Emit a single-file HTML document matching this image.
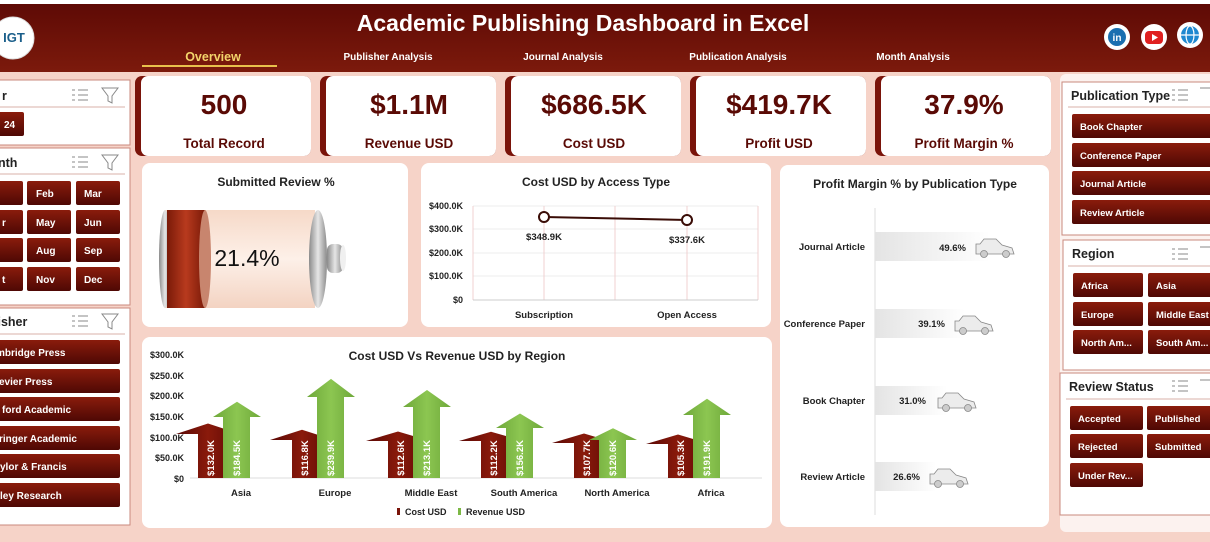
<!DOCTYPE html>
<html><head><meta charset="utf-8"><style>
html,body{margin:0;padding:0;width:1210px;height:542px;overflow:hidden;background:#f6d3c8}
svg{display:block}
text{font-family:"Liberation Sans",sans-serif}
.c{font-family:"Liberation Sans",sans-serif;font-weight:bold}
</style></head><body>
<svg width="1210" height="542" viewBox="0 0 1210 542" xmlns="http://www.w3.org/2000/svg">
<defs>
<linearGradient id="hdr" x1="0" y1="0" x2="0" y2="1"><stop offset="0" stop-color="#5e0a05"/><stop offset="1" stop-color="#7c1a0c"/></linearGradient>
<linearGradient id="btn" x1="0" y1="0" x2="0" y2="1"><stop offset="0" stop-color="#8a1c0c"/><stop offset="1" stop-color="#4e0804"/></linearGradient>
<linearGradient id="red" x1="0" y1="0" x2="1" y2="0"><stop offset="0" stop-color="#5a0805"/><stop offset=".5" stop-color="#8a1a0b"/><stop offset="1" stop-color="#5a0805"/></linearGradient>
<linearGradient id="grn" x1="0" y1="0" x2="1" y2="0"><stop offset="0" stop-color="#6ea83a"/><stop offset=".5" stop-color="#8cc651"/><stop offset="1" stop-color="#6ea83a"/></linearGradient>
<linearGradient id="bred" x1="0" y1="0" x2="1" y2="0"><stop offset="0" stop-color="#7a1a08"/><stop offset=".5" stop-color="#b83a1e"/><stop offset="1" stop-color="#7a1a08"/></linearGradient>
<linearGradient id="bpink" x1="0" y1="0" x2="0" y2="1"><stop offset="0" stop-color="#f6d9c8"/><stop offset=".5" stop-color="#fdf0e8"/><stop offset="1" stop-color="#f3d3c2"/></linearGradient>
<linearGradient id="gray" x1="0" y1="0" x2="1" y2="0"><stop offset="0" stop-color="#8a8a8a"/><stop offset=".5" stop-color="#e6e6e6"/><stop offset="1" stop-color="#8a8a8a"/></linearGradient>
<linearGradient id="pm" x1="0" y1="0" x2="1" y2="0"><stop offset="0" stop-color="#e4e4e4"/><stop offset="1" stop-color="#ffffff"/></linearGradient>
</defs>
<!-- header -->
<rect x="0" y="0" width="1210" height="4" fill="#fff"/>
<rect x="0" y="4" width="1210" height="68" fill="url(#hdr)"/>
<circle cx="13" cy="38" r="21" fill="#fff" stroke="#ddd"/>
<text x="14" y="42" class="c" font-size="13" fill="#1a5e8a" text-anchor="middle">IGT</text>
<text x="583" y="31" class="c" font-size="23" fill="#fff" text-anchor="middle">Academic Publishing Dashboard in Excel</text>
<text x="213" y="61" class="c" font-size="12.5" fill="#f3d36a" text-anchor="middle">Overview</text>
<rect x="142" y="65" width="135" height="2" fill="#e8c04c"/>
<text x="388" y="60" class="c" font-size="10" fill="#fff" text-anchor="middle">Publisher Analysis</text>
<text x="563" y="60" class="c" font-size="10" fill="#fff" text-anchor="middle">Journal Analysis</text>
<text x="738" y="60" class="c" font-size="10" fill="#fff" text-anchor="middle">Publication  Analysis</text>
<text x="913" y="60" class="c" font-size="10" fill="#fff" text-anchor="middle">Month Analysis</text>
<circle cx="1117" cy="37" r="13" fill="#fff"/><circle cx="1117" cy="37" r="9" fill="#1a6fb0"/><text x="1117" y="41" class="c" font-size="10" fill="#fff" text-anchor="middle">in</text>
<circle cx="1154" cy="37" r="13" fill="#fff"/><rect x="1145" y="31" width="18" height="13" rx="4" fill="#e02020"/><path d="M1152 34 L1158 37.5 L1152 41Z" fill="#fff"/>
<circle cx="1190" cy="35" r="13" fill="#fff"/><circle cx="1190" cy="35" r="9" fill="#1e88d0"/><ellipse cx="1190" cy="35" rx="4" ry="9" fill="none" stroke="#fff" stroke-width="1.2"/><line x1="1181" y1="35" x2="1199" y2="35" stroke="#fff" stroke-width="1.2"/>
<!-- left panels -->
<g stroke="#c98a7e" stroke-width="1" fill="#fff">
<rect x="-5" y="80" width="135" height="65"/>
<rect x="-5" y="148" width="135" height="157"/>
<rect x="-5" y="308" width="135" height="217"/>
</g>
<g class="c" font-size="12.5" fill="#222">
<text x="2" y="100">r</text><text x="-2" y="167">nth</text><text x="-6" y="326">lisher</text>
</g>
<g stroke="#d8b2aa"><line x1="0" y1="107" x2="125" y2="107"/><line x1="0" y1="174" x2="125" y2="174"/><line x1="0" y1="334" x2="125" y2="334"/></g>
<g fill="none" stroke="#888" stroke-width="1">
<path d="M72 90h3M72 95h3M72 100h3M78 90h10M78 95h10M78 100h10"/><path d="M102 88h16l-6 8v7l-4-2v-5z"/>
<path d="M72 157h3M72 162h3M72 167h3M78 157h10M78 162h10M78 167h10"/><path d="M102 155h16l-6 8v7l-4-2v-5z"/>
<path d="M72 316h3M72 321h3M72 326h3M78 316h10M78 321h10M78 326h10"/><path d="M102 314h16l-6 8v7l-4-2v-5z"/>
</g>
<rect x="-5" y="112" width="29" height="24" rx="2" fill="url(#btn)"/><text x="4" y="128" class="c" font-size="10" fill="#fff">24</text>
<g fill="url(#btn)">
<rect x="-5" y="181" width="28" height="24" rx="2"/><rect x="27" y="181" width="44" height="24" rx="2"/><rect x="76" y="181" width="44" height="24" rx="2"/>
<rect x="-5" y="210" width="28" height="24" rx="2"/><rect x="27" y="210" width="44" height="24" rx="2"/><rect x="76" y="210" width="44" height="24" rx="2"/>
<rect x="-5" y="238" width="28" height="24" rx="2"/><rect x="27" y="238" width="44" height="24" rx="2"/><rect x="76" y="238" width="44" height="24" rx="2"/>
<rect x="-5" y="267" width="28" height="24" rx="2"/><rect x="27" y="267" width="44" height="24" rx="2"/><rect x="76" y="267" width="44" height="24" rx="2"/>
<rect x="-5" y="340" width="125" height="24" rx="2"/><rect x="-5" y="369" width="125" height="24" rx="2"/><rect x="-5" y="397" width="125" height="24" rx="2"/>
<rect x="-5" y="426" width="125" height="24" rx="2"/><rect x="-5" y="454" width="125" height="24" rx="2"/><rect x="-5" y="483" width="125" height="24" rx="2"/>
</g>
<g class="c" font-size="10" fill="#fff">
<text x="36" y="197">Feb</text><text x="84" y="197">Mar</text>
<text x="2" y="226">r</text><text x="36" y="226">May</text><text x="84" y="226">Jun</text>
<text x="36" y="254">Aug</text><text x="84" y="254">Sep</text>
<text x="2" y="283">t</text><text x="36" y="283">Nov</text><text x="84" y="283">Dec</text>
<text x="-4" y="356">mbridge Press</text><text x="-1" y="385">evier Press</text><text x="2" y="413">ford Academic</text>
<text x="-1" y="442">ringer Academic</text><text x="0" y="470">ylor &amp; Francis</text><text x="0" y="499">ley Research</text>
</g>
<!-- KPI cards -->
<g>
<rect x="135" y="76" width="176" height="80" rx="7" fill="#7a140a"/><rect x="141" y="76" width="170" height="80" rx="7" fill="#fff"/>
<rect x="320" y="76" width="176" height="80" rx="7" fill="#7a140a"/><rect x="326" y="76" width="170" height="80" rx="7" fill="#fff"/>
<rect x="505" y="76" width="176" height="80" rx="7" fill="#7a140a"/><rect x="511" y="76" width="170" height="80" rx="7" fill="#fff"/>
<rect x="690" y="76" width="176" height="80" rx="7" fill="#7a140a"/><rect x="696" y="76" width="170" height="80" rx="7" fill="#fff"/>
<rect x="875" y="76" width="176" height="80" rx="7" fill="#7a140a"/><rect x="881" y="76" width="170" height="80" rx="7" fill="#fff"/>
</g>
<g class="c" fill="#5a0a05" text-anchor="middle">
<text x="224" y="114" font-size="28">500</text><text x="409" y="114" font-size="28">$1.1M</text><text x="594" y="114" font-size="28">$686.5K</text><text x="779" y="114" font-size="28">$419.7K</text><text x="964" y="114" font-size="28">37.9%</text>
<text x="224" y="148" font-size="13.5">Total Record</text><text x="409" y="148" font-size="13.5">Revenue USD</text><text x="594" y="148" font-size="13.5">Cost USD</text><text x="779" y="148" font-size="13.5">Profit USD</text><text x="964" y="148" font-size="13.5">Profit Margin %</text>
</g>
<!-- chart cards -->
<g fill="#fff">
<rect x="142" y="163" width="266" height="164" rx="8"/>
<rect x="421" y="163" width="350" height="164" rx="8"/>
<rect x="780" y="165" width="269" height="362" rx="8"/>
<rect x="142" y="337" width="630" height="191" rx="8"/>
</g>
<!-- submitted review battery -->
<text x="276" y="186" class="c" font-size="12" fill="#222" text-anchor="middle">Submitted Review %</text>
<rect x="165" y="210" width="150" height="98" fill="url(#bpink)"/>
<ellipse cx="165" cy="259" rx="6" ry="49" fill="url(#gray)"/>
<rect x="167" y="210" width="38" height="98" fill="url(#bred)"/>
<ellipse cx="205" cy="259" rx="6" ry="49" fill="#c8856e"/>
<ellipse cx="318" cy="259" rx="9" ry="49" fill="url(#gray)"/>
<rect x="327" y="244" width="16" height="29" rx="6" fill="url(#gray)"/>
<ellipse cx="343" cy="258" rx="3" ry="13" fill="#f0f0f0"/>
<text x="247" y="266" font-size="23" fill="#111" text-anchor="middle">21.4%</text>
<!-- line chart -->
<text x="596" y="186" class="c" font-size="12" fill="#222" text-anchor="middle">Cost USD by Access Type</text>
<g stroke="#eee"><line x1="473" y1="206" x2="758" y2="206"/><line x1="473" y1="229" x2="758" y2="229"/><line x1="473" y1="253" x2="758" y2="253"/><line x1="473" y1="276" x2="758" y2="276"/></g>
<g stroke="#f0d0d0"><line x1="473" y1="206" x2="473" y2="300"/><line x1="615" y1="206" x2="615" y2="300"/><line x1="758" y1="206" x2="758" y2="300"/><line x1="544" y1="206" x2="544" y2="300"/><line x1="687" y1="206" x2="687" y2="300"/></g>
<line x1="473" y1="300" x2="758" y2="300" stroke="#ccc"/>
<g class="c" font-size="9" fill="#222" text-anchor="end"><text x="463" y="209">$400.0K</text><text x="463" y="232">$300.0K</text><text x="463" y="256">$200.0K</text><text x="463" y="279">$100.0K</text><text x="463" y="303">$0</text></g>
<line x1="544" y1="217" x2="687" y2="220" stroke="#3a0c06" stroke-width="2"/>
<circle cx="544" cy="217" r="5" fill="#fff" stroke="#3a0c06" stroke-width="2"/><circle cx="687" cy="220" r="5" fill="#fff" stroke="#3a0c06" stroke-width="2"/>
<g class="c" font-size="9.5" fill="#222" text-anchor="middle"><text x="544" y="240">$348.9K</text><text x="687" y="243">$337.6K</text><text x="544" y="318">Subscription</text><text x="687" y="318">Open Access</text></g>
<!-- profit margin -->
<text x="915" y="188" class="c" font-size="12" fill="#222" text-anchor="middle">Profit Margin % by Publication Type</text>
<line x1="875" y1="208" x2="875" y2="515" stroke="#ddd"/>
<rect x="875" y="232" width="115" height="29" fill="url(#pm)"/>
<rect x="875" y="309" width="90" height="29" fill="url(#pm)"/>
<rect x="875" y="386" width="72" height="29" fill="url(#pm)"/>
<rect x="875" y="462" width="61" height="29" fill="url(#pm)"/>
<g class="c" font-size="9.5" fill="#222" text-anchor="end">
<text x="865" y="250">Journal Article</text><text x="865" y="327">Conference Paper</text><text x="865" y="404">Book Chapter</text><text x="865" y="480">Review Article</text>
<text x="966" y="251">49.6%</text><text x="945" y="327">39.1%</text><text x="926" y="404">31.0%</text><text x="920" y="480">26.6%</text>
</g>
<g fill="#ececec" stroke="#888" stroke-width="0.8">
<path d="M976 254 h38 l-2 -6 l-10 -3 l-6 -6 h-12 l-4 5 h-4z"/><circle cx="984" cy="254" r="3.5" fill="#ccc"/><circle cx="1006" cy="254" r="3.5" fill="#ccc"/>
<path d="M955 331 h38 l-2 -6 l-10 -3 l-6 -6 h-12 l-4 5 h-4z"/><circle cx="963" cy="331" r="3.5" fill="#ccc"/><circle cx="985" cy="331" r="3.5" fill="#ccc"/>
<path d="M938 408 h38 l-2 -6 l-10 -3 l-6 -6 h-12 l-4 5 h-4z"/><circle cx="946" cy="408" r="3.5" fill="#ccc"/><circle cx="968" cy="408" r="3.5" fill="#ccc"/>
<path d="M930 484 h38 l-2 -6 l-10 -3 l-6 -6 h-12 l-4 5 h-4z"/><circle cx="938" cy="484" r="3.5" fill="#ccc"/><circle cx="960" cy="484" r="3.5" fill="#ccc"/>
</g>
<!-- bar chart -->
<text x="457" y="360" class="c" font-size="12" fill="#222" text-anchor="middle">Cost USD Vs Revenue USD by Region</text>
<line x1="190" y1="478" x2="762" y2="478" stroke="#ddd"/>
<g class="c" font-size="9" fill="#222" text-anchor="end"><text x="184" y="358">$300.0K</text><text x="184" y="379">$250.0K</text><text x="184" y="399">$200.0K</text><text x="184" y="420">$150.0K</text><text x="184" y="441">$100.0K</text><text x="184" y="461">$50.0K</text><text x="184" y="482">$0</text></g>
<g id="bars">
<!-- cost arrows: shaft c-43..c-18, head c-65..c-1 -->
<path fill="url(#red)" d="M198 478V434H176L208 423.5L240 434H223V478Z"/>
<path fill="url(#red)" d="M292 478V440H270L302 429.8L334 440H317V478Z"/>
<path fill="url(#red)" d="M388 478V441H366L398 431.5L430 441H413V478Z"/>
<path fill="url(#red)" d="M481 478V441H459L491 431.7L523 441H506V478Z"/>
<path fill="url(#red)" d="M574 478V443H552L584 433.5L616 443H599V478Z"/>
<path fill="url(#red)" d="M668 478V444H646L678 434.5L710 444H693V478Z"/>
<!-- revenue arrows: shaft c-18..c+9, head c-28..c+19 -->
<path fill="url(#grn)" d="M223 478V417H213L237 401.8L261 417H250V478Z"/>
<path fill="url(#grn)" d="M317 478V397H307L331 378.9L355 397H344V478Z"/>
<path fill="url(#grn)" d="M413 478V407H403L427 390L451 407H440V478Z"/>
<path fill="url(#grn)" d="M506 478V428H496L520 413.5L544 428H533V478Z"/>
<path fill="url(#grn)" d="M599 478V440H589L613 428.2L637 440H626V478Z"/>
<path fill="url(#grn)" d="M693 478V415H683L707 398.7L731 415H720V478Z"/>
</g>
<g class="c" font-size="9.5" fill="#fff" text-anchor="middle">
<text transform="translate(214,458) rotate(-90)">$132.0K</text><text transform="translate(240,458) rotate(-90)">$184.5K</text>
<text transform="translate(308,458) rotate(-90)">$116.8K</text><text transform="translate(334,458) rotate(-90)">$239.9K</text>
<text transform="translate(404,458) rotate(-90)">$112.6K</text><text transform="translate(430,458) rotate(-90)">$213.1K</text>
<text transform="translate(497,458) rotate(-90)">$112.2K</text><text transform="translate(523,458) rotate(-90)">$156.2K</text>
<text transform="translate(590,458) rotate(-90)">$107.7K</text><text transform="translate(616,458) rotate(-90)">$120.6K</text>
<text transform="translate(684,458) rotate(-90)">$105.3K</text><text transform="translate(710,458) rotate(-90)">$191.9K</text>
</g>
<g class="c" font-size="9.5" fill="#222" text-anchor="middle">
<text x="241" y="496">Asia</text><text x="335" y="496">Europe</text><text x="431" y="496">Middle East</text><text x="524" y="496">South America</text><text x="617" y="496">North America</text><text x="711" y="496">Africa</text>
</g>
<rect x="397" y="508" width="3" height="7" fill="#7a140a"/><text x="405" y="515" class="c" font-size="9" fill="#222">Cost USD</text>
<rect x="458" y="508" width="3" height="7" fill="#7cb845"/><text x="466" y="515" class="c" font-size="9" fill="#222">Revenue USD</text>
<!-- right panels -->
<rect x="1060" y="74" width="160" height="458" rx="6" fill="#fff" opacity=".7"/>
<g stroke="#c98a7e" fill="#fff">
<rect x="1062" y="82" width="160" height="153"/>
<rect x="1063" y="240" width="160" height="130"/>
<rect x="1060" y="373" width="160" height="142"/>
</g>
<g class="c" font-size="12.5" fill="#222"><text x="1071" y="100">Publication Type</text><text x="1072" y="258">Region</text><text x="1069" y="391">Review Status</text></g>
<g stroke="#d8b2aa"><line x1="1068" y1="107" x2="1210" y2="107"/><line x1="1068" y1="266" x2="1210" y2="266"/><line x1="1066" y1="399" x2="1210" y2="399"/></g>
<g fill="none" stroke="#888"><path d="M1172 90h3M1172 95h3M1172 100h3M1178 90h10M1178 95h10M1178 100h10"/><path d="M1172 249h3M1172 254h3M1172 259h3M1178 249h10M1178 254h10M1178 259h10"/><path d="M1172 381h3M1172 386h3M1172 391h3M1178 381h10M1178 386h10M1178 391h10"/><path d="M1200 88h12M1200 247h12M1200 380h12"/></g>
<g fill="url(#btn)">
<rect x="1072" y="114" width="140" height="24" rx="2"/><rect x="1072" y="143" width="140" height="24" rx="2"/><rect x="1072" y="171" width="140" height="24" rx="2"/><rect x="1072" y="200" width="140" height="24" rx="2"/>
<rect x="1073" y="273" width="70" height="24" rx="2"/><rect x="1148" y="273" width="64" height="24" rx="2"/>
<rect x="1073" y="302" width="70" height="24" rx="2"/><rect x="1148" y="302" width="64" height="24" rx="2"/>
<rect x="1073" y="330" width="70" height="24" rx="2"/><rect x="1148" y="330" width="64" height="24" rx="2"/>
<rect x="1070" y="406" width="73" height="24" rx="2"/><rect x="1147" y="406" width="65" height="24" rx="2"/>
<rect x="1070" y="434" width="73" height="24" rx="2"/><rect x="1147" y="434" width="65" height="24" rx="2"/>
<rect x="1070" y="463" width="73" height="24" rx="2"/>
</g>
<g class="c" font-size="9.5" fill="#fff">
<text x="1080" y="130">Book Chapter</text><text x="1080" y="159">Conference Paper</text><text x="1080" y="187">Journal Article</text><text x="1080" y="216">Review Article</text>
<text x="1081" y="289">Africa</text><text x="1156" y="289">Asia</text><text x="1081" y="318">Europe</text><text x="1156" y="318">Middle East</text><text x="1081" y="346">North Am...</text><text x="1156" y="346">South Am...</text>
<text x="1078" y="422">Accepted</text><text x="1155" y="422">Published</text><text x="1078" y="450">Rejected</text><text x="1155" y="450">Submitted</text><text x="1078" y="479">Under Rev...</text>
</g>
</svg>
</body></html>
